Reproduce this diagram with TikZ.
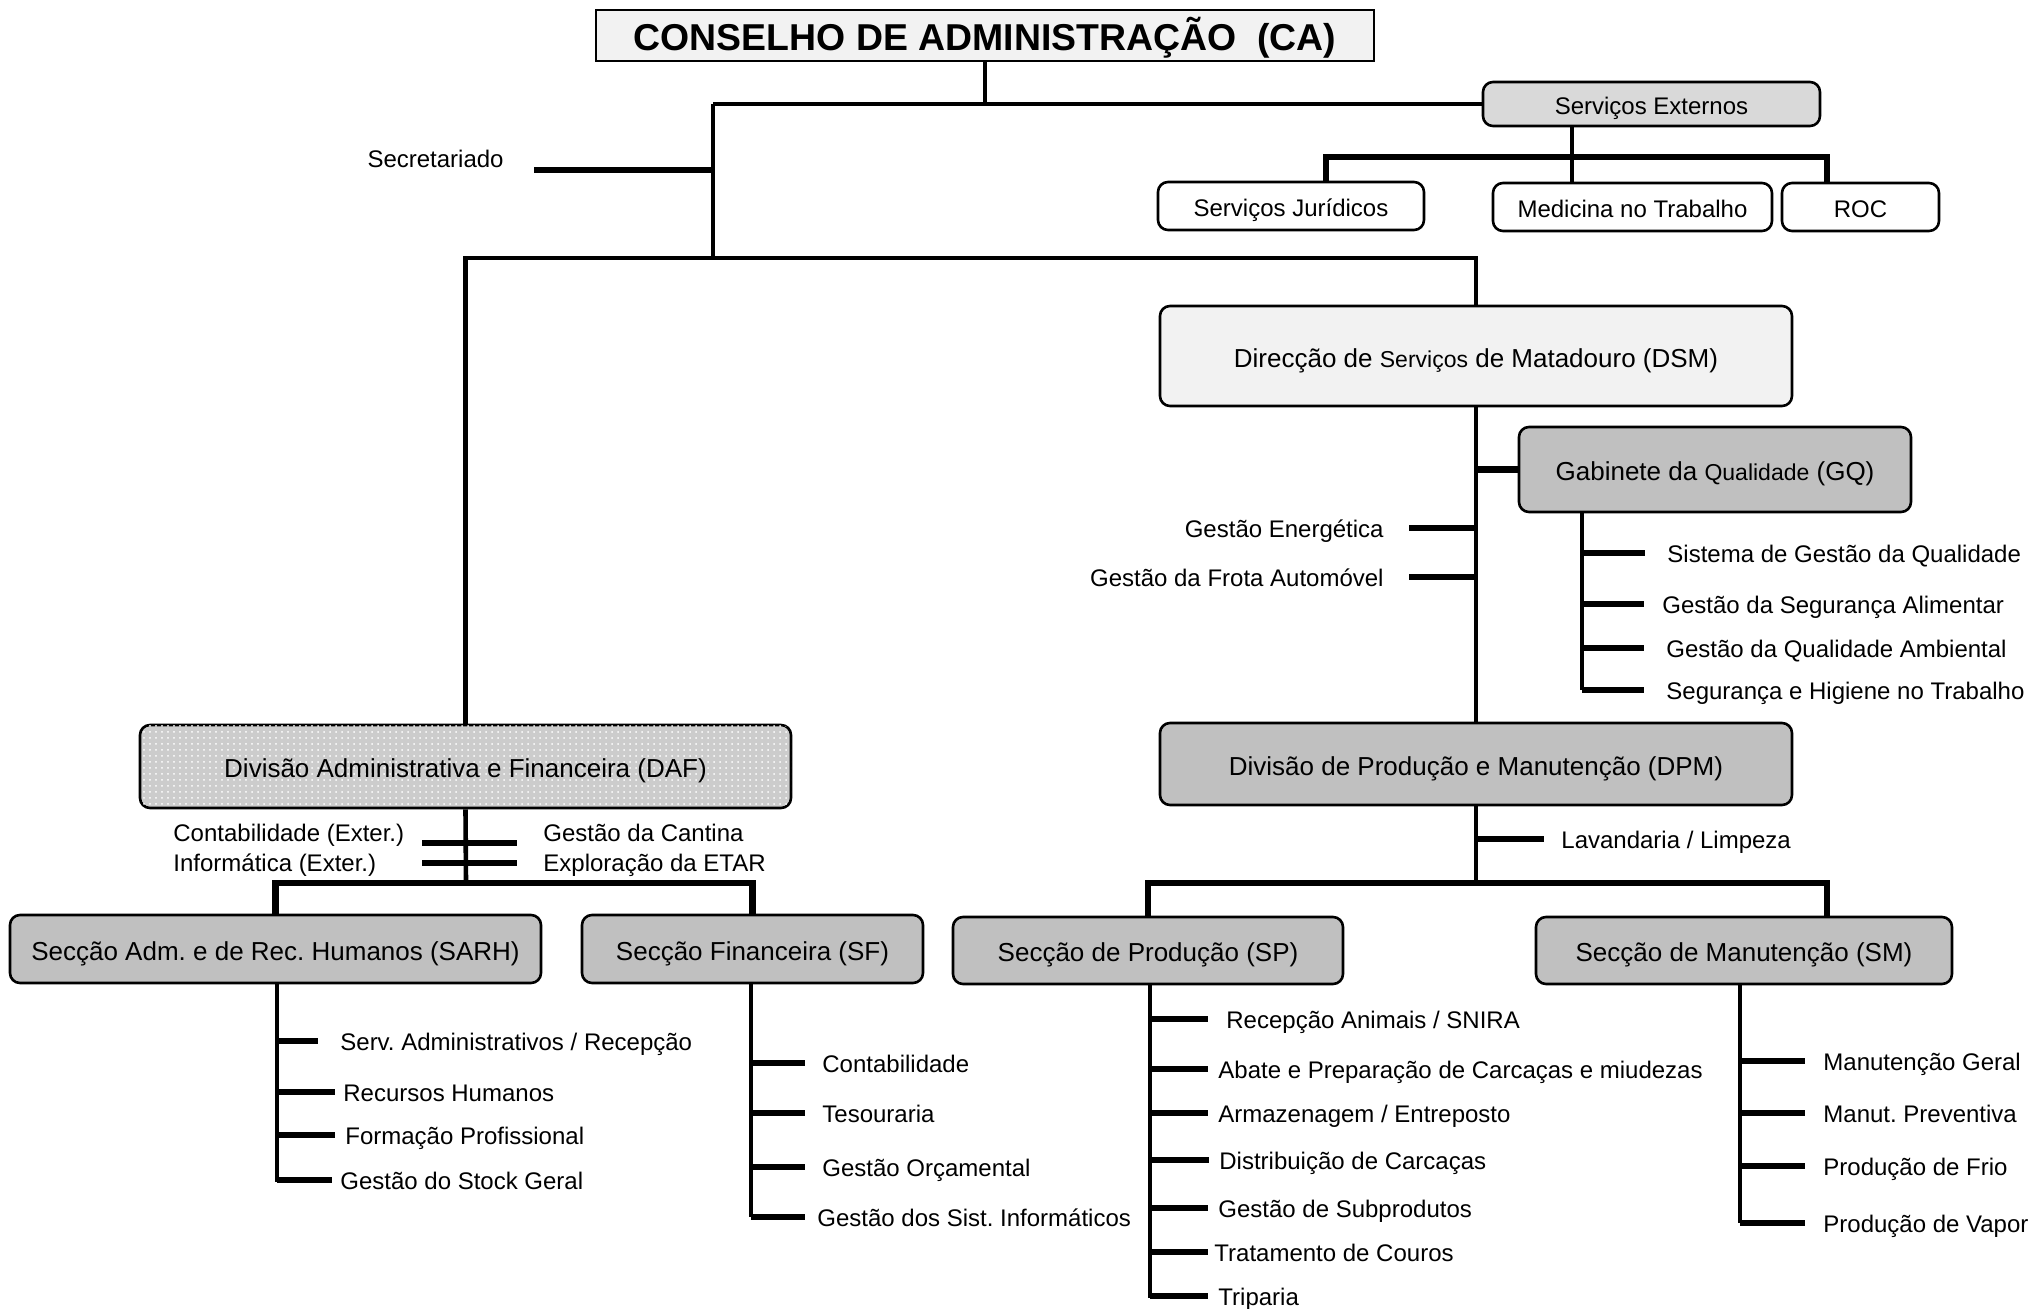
\documentclass[tikz,border=0pt]{standalone}
\usepackage{fontspec}
\setmainfont{Liberation Sans}
\usetikzlibrary{calc,patterns}
\frenchspacing

\definecolor{boxlight}{HTML}{F2F2F2}
\definecolor{boxmid}{HTML}{D9D9D9}
\definecolor{boxdark}{HTML}{C0C0C0}
\definecolor{boxdots}{HTML}{CCCCCC}

\begin{document}
\begin{tikzpicture}[x=0.5pt, y=-0.5pt, black,
    unit/.style={draw, line width=1.3pt, rounded corners=5pt, inner sep=0pt, text height=11pt, text depth=0pt,
        font=\fontsize{13}{15}\selectfont},
    subunit/.style={unit, text height=10pt, font=\fontsize{12}{14}\selectfont},
    trunk/.style={line width=2.3pt},
    stub/.style={line width=3.2pt},
    item/.style={inner sep=0pt, text height=9.1pt, text depth=0pt, font=\fontsize{12}{14}\selectfont}]

    \useasboundingbox (0,0) rectangle (2036,1308);

    %coordinates
    \coordinate (top) at (713,104); %CA junction
    \coordinate (mid) at (713,258); %split DAF / DSM
    \coordinate (secE) at (534,170); %secretariado
    \coordinate (seJ) at (1572,157); %serv. externos
    \coordinate (sjT) at (1326,157);
    \coordinate (roT) at (1827,157);
    \coordinate (gqB) at (1582,690);
    \coordinate (dpmJ) at (1476,883);
    \coordinate (smT) at (1827,883);
    \coordinate (dafJ) at (466,883);
    \coordinate (dl1) at (422,843);
    \coordinate (dr1) at (517,843);
    \coordinate (dl2) at (422,863);
    \coordinate (dr2) at (517,863);
    \coordinate (sarhB) at (277,1182);
    \coordinate (sfB) at (751,1217);
    \coordinate (spB) at (1150,1298);
    \coordinate (smB) at (1740,1223);

    %boxes
    \node[draw, line width=1pt, fill=boxlight, minimum width=389pt, minimum height=25.5pt, inner sep=0pt,
        text height=15pt, text depth=0pt,
        font=\bfseries\fontsize{18.7}{22}\selectfont] (CA) at (985,35.5) {CONSELHO DE ADMINISTRAÇÃO\ \ (CA)};
    \node[subunit, fill=boxmid, minimum width=168.5pt, minimum height=22pt] (SE) at (1651.5,104) {Serviços Externos};
    \node[subunit, fill=white, minimum width=133pt, minimum height=24pt] (SJ) at (1291,206) {Serviços Jurídicos};
    \node[subunit, fill=white, minimum width=139.5pt, minimum height=24pt] (MT) at (1632.5,207) {Medicina no Trabalho};
    \node[subunit, fill=white, minimum width=78.5pt, minimum height=24pt] (ROC) at (1860.5,207) {ROC};
    \node[unit, fill=boxlight, minimum width=316pt, minimum height=50pt] (DSM) at (1476,356)
        {Direcção de {\fontsize{11.5}{14}\selectfont Serviços} de Matadouro (DSM)};
    \node[unit, fill=boxdark, minimum width=196pt, minimum height=42.5pt] (GQ) at (1715,469.5)
        {Gabinete da {\fontsize{11.5}{14}\selectfont Qualidade} (GQ)};
    \node[unit, fill=boxdark, minimum width=316pt, minimum height=41pt] (DPM) at (1476,764)
        {Divisão de Produção e Manutenção (DPM)};
    \node[unit, fill=boxdots, postaction={pattern=dots, pattern color=white}, minimum width=325.5pt,
        minimum height=41.5pt] (DAF) at (465.5,766.5) {Divisão Administrativa e Financeira (DAF)};
    \node[unit, fill=boxdark, minimum width=265.5pt, minimum height=34pt] (SARH) at (275.5,949)
        {Secção Adm. e de Rec. Humanos (SARH)};
    \node[unit, fill=boxdark, minimum width=170.5pt, minimum height=34pt] (SF) at (752.5,949) {Secção Financeira (SF)};
    \node[unit, fill=boxdark, minimum width=195pt, minimum height=33.5pt] (SP) at (1148,950.5) {Secção de Produção (SP)};
    \node[unit, fill=boxdark, minimum width=208pt, minimum height=33.5pt] (SM) at (1744,950.5) {Secção de Manutenção (SM)};

    %CA
    \draw[line width=1.6pt] (CA.south) -- (CA.south |- top);
    \draw[trunk] (top) -- (top -| SE.west);
    \draw[trunk] (top) -- (mid);
    \draw[stub] (secE) -- (secE -| top);
    \node[item, anchor=east] (sec) at (504,158) {Secretariado};
    \draw[trunk] (DAF.north) -- (DAF.north |- mid) -- (DSM.north |- mid) -- (DSM.north);

    %servicos externos
    \draw[trunk] (SE.south -| seJ) -- (seJ);
    \draw[stub] (sjT |- SJ.north) -- (sjT) -- (roT) -- (roT |- ROC.north);
    \draw[trunk] (seJ) -- (seJ |- MT.north);

    %DSM
    \draw[trunk] (DSM.south) -- (DPM.north);
    \draw[stub] (GQ.west -| DSM.south) -- (GQ.west);
    \node[item, anchor=east] (ge) at (1384,528) {Gestão Energética};
    \node[item, anchor=east] (gf) at (1384,577) {Gestão da Frota Automóvel};
    \foreach \n in {ge,gf}
    \draw[stub] ([xshift=12.5pt]\n.east) -- (\n.east -| DSM.south);

    %GQ
    \draw[trunk] (GQ.south -| gqB) -- (gqB);
    \foreach \y/\x/\e/\t [count=\i] in {553/1667/11/{Sistema de Gestão da Qualidade},
        604/1662/9/{Gestão da Segurança Alimentar}, 648/1666/11/{Gestão da Qualidade Ambiental},
        690/1666/11/{Segurança e Higiene no Trabalho}}{
        \node[item, anchor=west] (gq\i) at (\x,\y) {\t};
        \draw[stub] (gq\i.west -| gqB) -- ([xshift=-\e pt]gq\i.west);
    }

    %DPM
    \draw[trunk] (DPM.south) -- (dpmJ);
    \draw[stub] (SP.north) -- (SP.north |- dpmJ) -- (smT) -- (smT |- SM.north);
    \node[item, anchor=west] (lav) at (1561,839) {Lavandaria / Limpeza};
    \draw[stub] (lav.west -| DPM.south) -- ([xshift=-8.5pt]lav.west);

    %DAF
    \draw[trunk] (DAF.south) -- (dafJ);
    \draw[stub] (SARH.north) -- (SARH.north |- dafJ) -- (SF.north |- dafJ) -- (SF.north);
    \node[item, anchor=west] (cx) at (173,832) {Contabilidade (Exter.)};
    \node[item, anchor=west] (ix) at (173,862) {Informática (Exter.)};
    \node[item, anchor=west] (gc) at (543,832) {Gestão da Cantina};
    \node[item, anchor=west] (ee) at (543,862) {Exploração da ETAR};
    \draw[stub] (dl1) -- (dr1);
    \draw[stub] (dl2) -- (dr2);

    %SARH
    \draw[trunk] (SARH.south -| sarhB) -- (sarhB);
    \foreach \y/\x/\e/\t [count=\i] in {1041/340/11/{Serv. Administrativos / Recepção},
        1092/343/4/{Recursos Humanos}, 1135/345/5/{Formação Profissional}, 1180/340/4/{Gestão do Stock Geral}}{
        \node[item, anchor=west] (sarh\i) at (\x,\y) {\t};
        \draw[stub] (sarh\i.west -| sarhB) -- ([xshift=-\e pt]sarh\i.west);
    }

    %SF
    \draw[trunk] (SF.south -| sfB) -- (sfB);
    \foreach \y/\x/\e/\t [count=\i] in {1063/822/8.5/{Contabilidade}, 1113/822/8.5/{Tesouraria},
        1167/822/8.5/{Gestão Orçamental}, 1217/817/6/{Gestão dos Sist. Informáticos}}{
        \node[item, anchor=west] (sf\i) at (\x,\y) {\t};
        \draw[stub] (sf\i.west -| sfB) -- ([xshift=-\e pt]sf\i.west);
    }

    %SP
    \draw[trunk] (SP.south -| spB) -- (spB);
    \foreach \y/\x/\e/\t [count=\i] in {1019/1226/9/{Recepção Animais / SNIRA},
        1069/1218/5/{Abate e Preparação de Carcaças e miudezas}, 1113/1218/5/{Armazenagem / Entreposto},
        1160/1219/5/{Distribuição de Carcaças}, 1208/1218/5/{Gestão de Subprodutos},
        1252/1214/3/{Tratamento de Couros}, 1296/1218/5/{Triparia}}{
        \node[item, anchor=west] (sp\i) at (\x,\y) {\t};
        \draw[stub] (sp\i.west -| spB) -- ([xshift=-\e pt]sp\i.west);
    }

    %SM
    \draw[trunk] (SM.south -| smB) -- (smB);
    \foreach \y/\x/\e/\t [count=\i] in {1061/1823/9/{Manutenção Geral}, 1113/1823/9/{Manut. Preventiva},
        1166/1823/9/{Produção de Frio}, 1223/1823/9/{Produção de Vapor}}{
        \node[item, anchor=west] (sm\i) at (\x,\y) {\t};
        \draw[stub] (sm\i.west -| smB) -- ([xshift=-\e pt]sm\i.west);
    }

\end{tikzpicture}
\end{document}
